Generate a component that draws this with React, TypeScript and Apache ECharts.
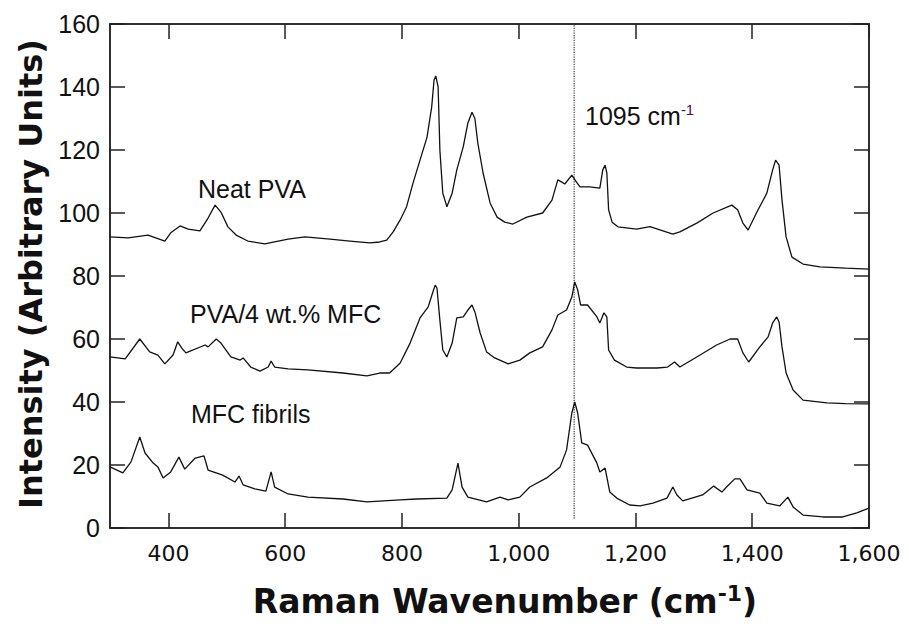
import React, { useEffect, useRef, useState } from "react";
import * as echarts from "echarts";

const xTicks = [400, 600, 800, 1000, 1200, 1400, 1600];
const marker1095 = 1095;

const neatPVA: [number, number][] = [
  [300, 92.4], [331, 92.1], [365, 93], [394, 91.1], [404, 93.7], [420, 95.9], [434, 94.9], [454, 94.3],
  [468, 98.4], [480, 102.5], [490, 100.3], [502, 95.6], [516, 93], [536, 91.1], [565, 90.2], [605, 91.7],
  [634, 92.4], [677, 91.7], [711, 91.1], [745, 90.5], [762, 90.8], [774, 91.4], [785, 94], [797, 97.8],
  [808, 102], [819, 109.5], [831, 116.8], [843, 124.1], [851, 133.7], [855, 142.2], [858, 143.5],
  [862, 140], [865, 120], [870, 106.3], [877, 102], [886, 106.3], [894, 113.7], [905, 121], [913, 128.6],
  [920, 132], [925, 130], [930, 122.2], [939, 112.7], [951, 103.2], [963, 98.7], [976, 97.1], [990, 96.5],
  [1014, 98.7], [1041, 100], [1057, 104.1], [1067, 110.5], [1074, 109.8], [1079, 109.2], [1091, 112],
  [1099, 109.8], [1105, 108.3], [1122, 108.3], [1139, 107.9], [1144, 113.7], [1148, 115.2], [1151, 112.7],
  [1154, 101], [1160, 97.1], [1170, 95.6], [1202, 94.9], [1225, 95.7], [1264, 93.3], [1276, 94],
  [1305, 96.8], [1333, 100], [1365, 102.5], [1375, 101], [1384, 96.8], [1393, 94.6], [1408, 100.3],
  [1425, 106.3], [1435, 113.7], [1440, 116.8], [1446, 115.2], [1451, 104.1], [1458, 92.4], [1468, 86],
  [1487, 83.8], [1516, 82.9], [1560, 82.5], [1600, 82.2],
];

const pva4MFC: [number, number][] = [
  [300, 54.3], [326, 53.7], [351, 60], [368, 55.9], [382, 54.9], [394, 52.1], [408, 54.9], [416, 59.1],
  [423, 57.1], [430, 55.6], [463, 58.1], [468, 57.5], [482, 60], [490, 58.7], [507, 54.3], [523, 53.3],
  [528, 54], [541, 51.1], [557, 49.8], [571, 51.1], [576, 53], [582, 51.1], [605, 50.5], [639, 50.2],
  [699, 49.2], [740, 48.3], [762, 49.2], [779, 49.2], [797, 52.4], [814, 58.7], [831, 66.7], [845, 70.2],
  [853, 74.9], [857, 77.1], [860, 76.2], [865, 66], [870, 56.5], [877, 54.3], [886, 58.7], [894, 66.7],
  [905, 67], [913, 69.2], [920, 70.8], [925, 68.6], [934, 61.9], [945, 55.9], [959, 54], [982, 52.1],
  [1002, 53.3], [1019, 55.6], [1041, 57.5], [1057, 62.9], [1067, 67.6], [1082, 69.2], [1091, 73.3],
  [1096, 78.1], [1101, 75.6], [1106, 70.8], [1118, 70.8], [1134, 67], [1139, 65.1], [1146, 68.3],
  [1151, 67], [1154, 56.5], [1164, 53.3], [1185, 51.1], [1202, 50.8], [1237, 50.8], [1255, 51.1],
  [1267, 52.7], [1276, 51.1], [1305, 54.3], [1339, 58.1], [1362, 60], [1375, 60], [1384, 55.6],
  [1394, 52.7], [1413, 57.5], [1427, 60.6], [1435, 65.1], [1442, 67], [1446, 65.4], [1451, 57.5],
  [1458, 49.2], [1470, 43.8], [1487, 40.6], [1528, 39.7], [1560, 39.5], [1600, 39.4],
];

const mfcFibrils: [number, number][] = [
  [300, 19.4], [322, 17.5], [336, 21], [351, 28.9], [360, 23.8], [374, 20.6], [382, 19.4], [391, 15.9],
  [404, 17.8], [418, 22.5], [428, 18.7], [446, 22.2], [461, 22.9], [468, 18.4], [493, 16.8], [514, 14.6],
  [521, 16.5], [528, 13.7], [548, 12.4], [567, 11.7], [576, 17.8], [582, 13], [605, 10.8], [639, 9.8],
  [699, 9.2], [740, 8.3], [797, 8.9], [825, 9.2], [877, 9.5], [886, 12.1], [896, 20.6], [903, 13],
  [913, 9.8], [945, 8.3], [968, 9.8], [982, 8.9], [1002, 9.8], [1019, 13], [1048, 15.9], [1071, 19.4],
  [1082, 24.8], [1091, 36.5], [1096, 40], [1101, 36.5], [1108, 27], [1118, 26.3], [1134, 20.6],
  [1139, 17.8], [1148, 19], [1156, 11.4], [1168, 9.5], [1190, 7.3], [1208, 7], [1230, 7.9], [1254, 9.5],
  [1264, 13], [1271, 10.5], [1281, 8.6], [1315, 10.5], [1334, 13.3], [1348, 11.4], [1356, 13],
  [1370, 15.6], [1379, 15.6], [1391, 12.1], [1413, 11.1], [1425, 7.9], [1447, 7], [1461, 9.8],
  [1470, 6.7], [1487, 4.1], [1521, 3.5], [1555, 3.5], [1579, 4.8], [1600, 6.3],
];

const markerLine: [number, number][] = [[marker1095, 3], [marker1095, 160]];

const AXIS_COLOR = "#222";

export default function App() {
  const ref = useRef<HTMLDivElement>(null);
  const [err, setErr] = useState("");
  useEffect(() => {
    document.body.style.margin = "0";
    const chart = echarts.init(ref.current!, null, { renderer: "svg" });
    const axisLine = () => ({ show: true, onZero: false, lineStyle: { color: AXIS_COLOR, width: 1.5 } });
    const tick = (custom?: number[]) => {
      const t: any = { show: true, inside: true, length: 15, lineStyle: { color: AXIS_COLOR, width: 1.5 } };
      if (custom) t.customValues = custom;
      return t;
    };
    const lineSeries = (data: [number, number][]) => ({
      type: "line", data, showSymbol: false, symbol: "none",
      lineStyle: { color: "#111", width: 1.3 }, xAxisIndex: 0, yAxisIndex: 0, z: 3,
    });
    const labelText = (x: number, y: number, text: string) => ({
      type: "text", x, y,
      style: { text, fontFamily: "Liberation Sans", fontSize: 25, fill: "#111", align: "left", verticalAlign: "middle" },
    });
    try {
      chart.setOption({
        animation: false,
        backgroundColor: "#fff",
        grid: { left: 110, right: 40, top: 24, bottom: 98, containLabel: false, show: true, borderColor: AXIS_COLOR, borderWidth: 1.5, backgroundColor: "transparent" },
        xAxis: [
          { type: "value", min: 300, max: 1600, position: "bottom", axisLine: axisLine(), axisTick: tick(xTicks),
            axisLabel: { customValues: xTicks, formatter: (v: number) => v.toLocaleString("en-US"), fontFamily: "DejaVu Sans", fontSize: 22, color: "#111", margin: 14 },
            splitLine: { show: false } },
          { type: "value", min: 300, max: 1600, position: "top", axisLine: axisLine(), axisTick: tick(xTicks),
            axisLabel: { show: false, customValues: xTicks }, splitLine: { show: false } },
        ],
        yAxis: [
          { type: "value", min: 0, max: 160, interval: 20, position: "left", axisLine: axisLine(), axisTick: tick(),
            axisLabel: { fontFamily: "Liberation Sans", fontSize: 25, color: "#111", margin: 10 }, splitLine: { show: false } },
          { type: "value", min: 0, max: 160, interval: 20, position: "right", axisLine: axisLine(), axisTick: tick(), axisLabel: { show: false }, splitLine: { show: false } },
        ],
        series: [
          lineSeries(neatPVA),
          lineSeries(pva4MFC),
          lineSeries(mfcFibrils),
          { type: "line", data: markerLine, showSymbol: false, symbol: "none", xAxisIndex: 1, yAxisIndex: 1,
            lineStyle: { color: "#333", width: 1.2, type: "dotted" }, z: 2 },
        ],
        graphic: [
          { type: "text", x: 31, y: 274, rotation: Math.PI / 2,
            style: { text: "Intensity (Arbitrary Units)", fontFamily: "DejaVu Sans", fontWeight: "bold", fontSize: 32, fill: "#111", align: "center", verticalAlign: "middle" } },
          { type: "text", x: 505, y: 601,
            style: { text: "{a|Raman Wavenumber (cm}{s|-1}{a|)}", align: "center", verticalAlign: "middle",
              rich: { a: { fontFamily: "DejaVu Sans", fontWeight: "bold", fontSize: 33, fill: "#111", lineHeight: 38 },
                      s: { fontFamily: "DejaVu Sans", fontWeight: "bold", fontSize: 22, fill: "#111", verticalAlign: "top" } } } },
          labelText(198, 189, "Neat PVA"),
          labelText(190, 314, "PVA/4 wt.% MFC"),
          labelText(191, 414, "MFC fibrils"),
          { type: "text", x: 585, y: 116,
            style: { text: "{a|1095 cm}{s|-1}", align: "left", verticalAlign: "middle",
              rich: { a: { fontFamily: "Liberation Sans", fontSize: 25, fill: "#111", lineHeight: 28 },
                      s: { fontFamily: "Liberation Sans", fontSize: 15, fill: "#4a1050", verticalAlign: "top" } } } },
        ],
      });
    } catch (e: any) {
      setErr(String(e && e.stack ? e.stack : e));
    }
    return () => chart.dispose();
  }, []);
  return (
    <div>
      <div ref={ref} style={{ width: 909, height: 626, position: "absolute", left: 0, top: 0 }} />
      {err ? <pre style={{ position: "absolute", left: 120, top: 440, fontSize: 10, whiteSpace: "pre-wrap", width: 700, color: "blue" }}>{err}</pre> : null}
    </div>
  );
}
